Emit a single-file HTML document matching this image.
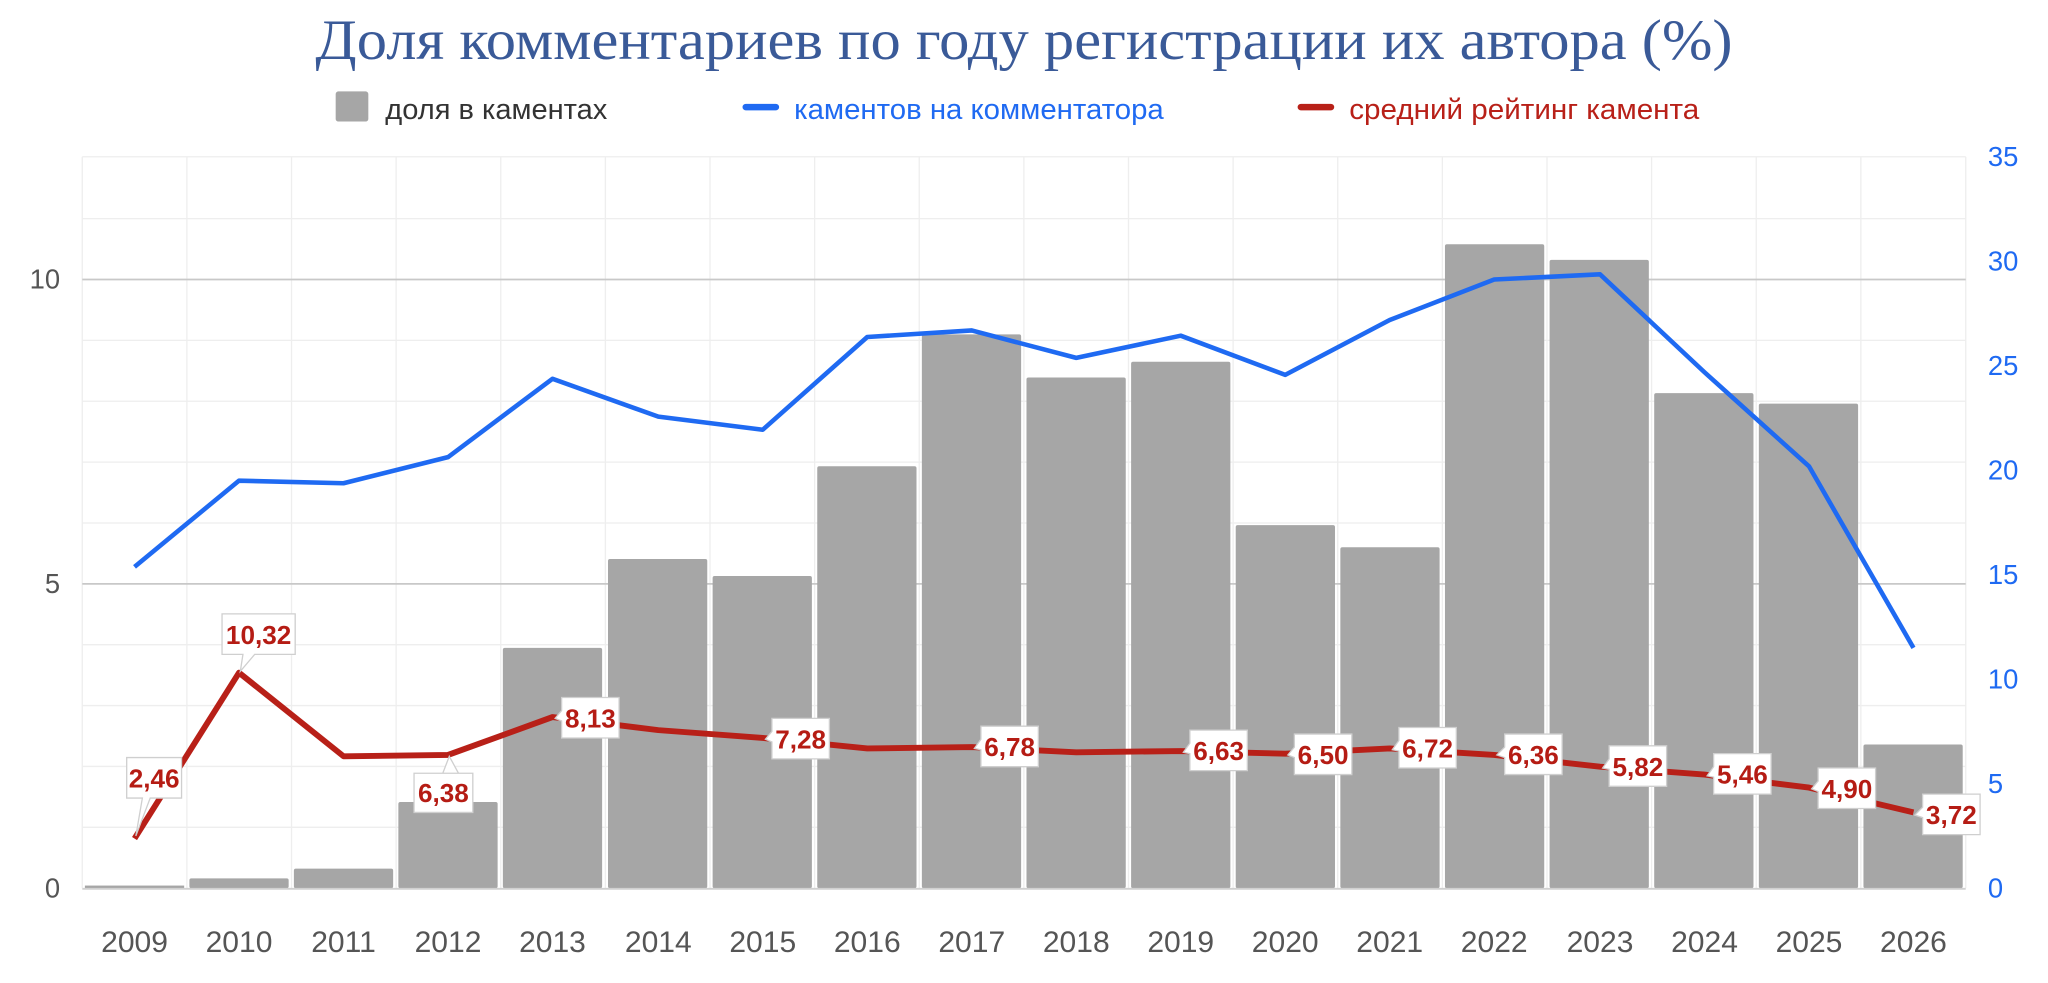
<!DOCTYPE html>
<html><head><meta charset="utf-8"><style>
html,body{margin:0;padding:0;background:#fff;}
svg{display:block;}
</style></head><body>
<svg width="2048" height="983" viewBox="0 0 1568 752.6" preserveAspectRatio="none" xmlns="http://www.w3.org/2000/svg">
<rect width="1568" height="753" fill="#fff"/>
<text x="784" y="45" text-anchor="middle" font-family="Liberation Serif, serif" font-size="44" fill="#3a5a98" textLength="1085" lengthAdjust="spacingAndGlyphs">Доля комментариев по году регистрации их автора (%)</text>
<rect x="257" y="70" width="25" height="23" rx="2" fill="#a6a6a6"/>
<text x="295" y="91" font-family="Liberation Sans, sans-serif" font-size="22" fill="#333" textLength="170" lengthAdjust="spacingAndGlyphs">доля в каментах</text>
<line x1="571" y1="82" x2="594" y2="82" stroke="#1f6af2" stroke-width="5" stroke-linecap="round"/>
<text x="608" y="91" font-family="Liberation Sans, sans-serif" font-size="22" fill="#1f6af2" textLength="283" lengthAdjust="spacingAndGlyphs">каментов на комментатора</text>
<line x1="996" y1="82" x2="1019" y2="82" stroke="#b82018" stroke-width="5" stroke-linecap="round"/>
<text x="1033" y="91" font-family="Liberation Sans, sans-serif" font-size="22" fill="#b82018" textLength="268" lengthAdjust="spacingAndGlyphs">средний рейтинг камента</text>
<g stroke="#eeeeee" stroke-width="1">
<line x1="63" y1="120" x2="1505" y2="120"/><line x1="63" y1="167.4" x2="1505" y2="167.4"/><line x1="63" y1="260.6" x2="1505" y2="260.6"/><line x1="63" y1="307.2" x2="1505" y2="307.2"/><line x1="63" y1="353.8" x2="1505" y2="353.8"/><line x1="63" y1="400.4" x2="1505" y2="400.4"/><line x1="63" y1="493.6" x2="1505" y2="493.6"/><line x1="63" y1="540.2" x2="1505" y2="540.2"/><line x1="63" y1="586.8" x2="1505" y2="586.8"/><line x1="63" y1="633.4" x2="1505" y2="633.4"/>
<line x1="63" y1="120" x2="63" y2="680"/><line x1="143.1" y1="120" x2="143.1" y2="680"/><line x1="223.2" y1="120" x2="223.2" y2="680"/><line x1="303.3" y1="120" x2="303.3" y2="680"/><line x1="383.4" y1="120" x2="383.4" y2="680"/><line x1="463.5" y1="120" x2="463.5" y2="680"/><line x1="543.6" y1="120" x2="543.6" y2="680"/><line x1="623.7" y1="120" x2="623.7" y2="680"/><line x1="703.8" y1="120" x2="703.8" y2="680"/><line x1="783.9" y1="120" x2="783.9" y2="680"/><line x1="864" y1="120" x2="864" y2="680"/><line x1="944.1" y1="120" x2="944.1" y2="680"/><line x1="1024.2" y1="120" x2="1024.2" y2="680"/><line x1="1104.3" y1="120" x2="1104.3" y2="680"/><line x1="1184.4" y1="120" x2="1184.4" y2="680"/><line x1="1264.5" y1="120" x2="1264.5" y2="680"/><line x1="1344.6" y1="120" x2="1344.6" y2="680"/><line x1="1424.7" y1="120" x2="1424.7" y2="680"/><line x1="1505" y1="120" x2="1505" y2="680"/>
</g>
<g stroke="#c8c8c8" stroke-width="1.3"><line x1="63" y1="214" x2="1505" y2="214"/><line x1="63" y1="447" x2="1505" y2="447"/></g>
<g fill="#a6a6a6">
<rect x="65" y="678" width="76" height="2"/>
<rect x="145" y="672.5" width="76" height="7.5" rx="1.5"/>
<rect x="225" y="665" width="76" height="15" rx="1.5"/>
<rect x="305" y="614" width="76" height="66" rx="1.5"/>
<rect x="385" y="496" width="76" height="184" rx="1.5"/>
<rect x="465.5" y="428" width="76" height="252" rx="1.5"/>
<rect x="545.6" y="441" width="76" height="239" rx="1.5"/>
<rect x="625.7" y="357" width="76" height="323" rx="1.5"/>
<rect x="705.8" y="256" width="76" height="424" rx="1.5"/>
<rect x="785.9" y="289" width="76" height="391" rx="1.5"/>
<rect x="866" y="277" width="76" height="403" rx="1.5"/>
<rect x="946.1" y="402" width="76" height="278" rx="1.5"/>
<rect x="1026.2" y="419" width="76" height="261" rx="1.5"/>
<rect x="1106.3" y="187" width="76" height="493" rx="1.5"/>
<rect x="1186.4" y="199" width="76" height="481" rx="1.5"/>
<rect x="1266.5" y="301" width="76" height="379" rx="1.5"/>
<rect x="1346.6" y="309" width="76" height="371" rx="1.5"/>
<rect x="1426.7" y="570" width="76" height="110" rx="1.5"/>
</g>
<line x1="63" y1="680.5" x2="1505" y2="680.5" stroke="#d0d0d0" stroke-width="1.5"/>
<polyline fill="none" stroke="#1f6af2" stroke-width="3.5" stroke-linejoin="round" points="103,434 183,368 263,370 343,350 423,290 504,319 584,329 664,258 744,253 824,274 904,257 984,287 1064,245 1144,214 1225,210 1305,285 1385,357 1465,496"/>
<polyline fill="none" stroke="#b82018" stroke-width="4.5" stroke-linejoin="round" points="103,642 183,515 263,579 343,578 423,549 504,559 584,565 664,573 744,572 824,576 904,575 984,577 1064,573 1144,578 1225,587 1305,593 1385,603 1465,622"/>
<g font-family="Liberation Sans, sans-serif" font-size="20" font-weight="bold" fill="#b51c14" text-anchor="middle">
<g stroke="#cfcfcf" stroke-width="1" fill="#fff">
<path d="M97,580 H139 V611 H115 L104,640 L109,611 H97 Z"/>
<path d="M170,470 H226 V501 H195 L184,514 L186,501 H170 Z"/>
<path d="M317,592 H362 V622 H317 Z M339,592 L344,579 L351,592"/>
</g>
<text x="118" y="603">2,46</text>
<text x="198" y="493">10,32</text>
<text x="339.5" y="614">6,38</text>
<g stroke="#cfcfcf" stroke-width="1" fill="#fff">
<path d="M430,534 H474 V565 H430 V552 L425,550 L430,544 Z"/>
<path d="M591,550 H635 V581 H591 V568 L586,566 L591,560 Z"/>
<path d="M751,556 H795 V587 H751 V574 L746,573 L751,566 Z"/>
<path d="M911,559 H955 V590 H911 V577 L906,576 L911,569 Z"/>
<path d="M991,562 H1035 V593 H991 V580 L986,578 L991,572 Z"/>
<path d="M1071,557 H1115 V588 H1071 V575 L1066,574 L1071,567 Z"/>
<path d="M1152,562 H1196 V593 H1152 V580 L1146,578 L1152,572 Z"/>
<path d="M1232,571 H1276 V602 H1232 V589 L1227,588 L1232,581 Z"/>
<path d="M1312,577 H1356 V608 H1312 V595 L1307,594 L1312,587 Z"/>
<path d="M1392,588 H1436 V619 H1392 V606 L1387,604 L1392,598 Z"/>
<path d="M1472,608 H1516 V639 H1472 V626 L1466,624 L1472,618 Z"/>
</g>
<text x="452" y="557">8,13</text>
<text x="613" y="573">7,28</text>
<text x="773" y="579">6,78</text>
<text x="933" y="582">6,63</text>
<text x="1013" y="585">6,50</text>
<text x="1093" y="580">6,72</text>
<text x="1174" y="585">6,36</text>
<text x="1254" y="594">5,82</text>
<text x="1334" y="600">5,46</text>
<text x="1414" y="611">4,90</text>
<text x="1494" y="631">3,72</text>
</g>
<g font-family="Liberation Sans, sans-serif" font-size="21" fill="#555" text-anchor="end">
<text x="46" y="221">10</text><text x="46" y="454">5</text><text x="46" y="687">0</text>
</g>
<g font-family="Liberation Sans, sans-serif" font-size="21" fill="#1f6af2" text-anchor="start">
<text x="1522" y="127">35</text><text x="1522" y="207">30</text><text x="1522" y="287">25</text><text x="1522" y="367">20</text><text x="1522" y="447">15</text><text x="1522" y="527">10</text><text x="1522" y="607">5</text><text x="1522" y="687">0</text>
</g>
<g font-family="Liberation Sans, sans-serif" font-size="23" fill="#555" text-anchor="middle">
<text x="103" y="729">2009</text><text x="183" y="729">2010</text><text x="263" y="729">2011</text><text x="343" y="729">2012</text><text x="423" y="729">2013</text><text x="504" y="729">2014</text><text x="584" y="729">2015</text><text x="664" y="729">2016</text><text x="744" y="729">2017</text><text x="824" y="729">2018</text><text x="904" y="729">2019</text><text x="984" y="729">2020</text><text x="1064" y="729">2021</text><text x="1144" y="729">2022</text><text x="1225" y="729">2023</text><text x="1305" y="729">2024</text><text x="1385" y="729">2025</text><text x="1465" y="729">2026</text>
</g>
</svg>
</body></html>
